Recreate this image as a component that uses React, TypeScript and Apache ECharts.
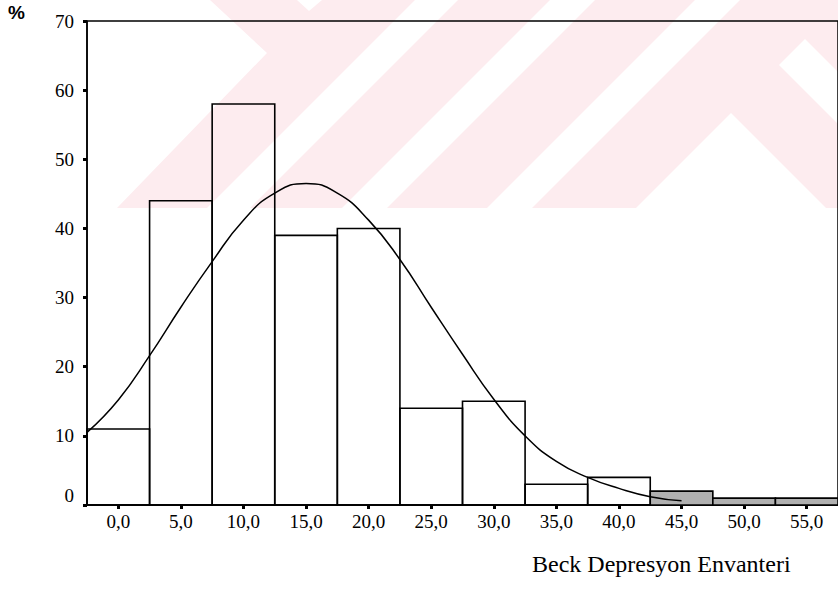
import React, { useEffect, useRef } from "react";
import * as echarts from "echarts";

// Histogram bins (centre of each 5-point class) and their heights in %
const binCenters = [0, 5, 10, 15, 20, 25, 30, 35, 40, 45, 50, 55];
const binPercents = [11, 44, 58, 39, 40, 14, 15, 3, 4, 2, 1, 1];
const BIN_WIDTH = 5;

// Fitted normal curve, sampled every 2.5 points
const curveX = [-2.5, 0, 2.5, 5, 7.5, 10, 12.5, 15, 17.5, 20, 22.5, 25, 27.5, 30, 32.5, 35, 37.5, 40, 42.5, 45];
const curveY = [10.5, 15.2, 21.6, 28.6, 35.2, 41.2, 45.1, 46.5, 45.1, 41.2, 35.5, 28.6, 21.8, 15.3, 10.0, 6.3, 4.0, 2.4, 1.2, 0.6];

// Axis ticks
const yTicks = [0, 10, 20, 30, 40, 50, 60, 70];
const xTickValues = binCenters;

const xTitle = "Beck Depresyon Envanteri";
const yUnit = "%";

const SERIF = "'Liberation Serif', 'Times New Roman', serif";
const PINK = "#fdecef";

// Faint background emblem (light pink band with white diagonal stripes)
const emblemBase: number[][] = [[210, 0], [838, 0], [838, 208], [117, 208], [267, 53]];
const emblemCuts: number[][][] = [
  [[297, 0], [322, 0], [309, 11]],
  [[415, 0], [458, 0], [250, 208], [207, 208]],
  [[550, 0], [595, 0], [387, 208], [342, 208]],
  [[695, 0], [740, 0], [532, 208], [487, 208]],
  [[731, 113], [826, 208], [636, 208]],
  [[779, 65], [805, 39], [838, 72], [838, 124]],
];

export default function App() {
  const ref = useRef<HTMLDivElement>(null);

  useEffect(() => {
    if (!ref.current) return;
    const chart = echarts.init(ref.current, undefined, { renderer: "svg" });

    const emblem: any[] = [
      { type: "polygon", z: -10, silent: true, shape: { points: emblemBase }, style: { fill: PINK } },
      ...emblemCuts.map((pts) => ({
        type: "polygon",
        z: -9,
        silent: true,
        shape: { points: pts },
        style: { fill: "#ffffff" },
      })),
    ];

    chart.setOption({
      animation: false,
      backgroundColor: "#ffffff",
      title: {
        text: xTitle,
        left: 532,
        top: 552,
        padding: 0,
        textStyle: { fontFamily: SERIF, fontSize: 24, fontWeight: "normal", color: "#000" },
      },
      graphic: [
        ...emblem,
        {
          type: "text",
          left: 8,
          top: 3,
          style: { text: yUnit, font: "bold 19px 'Liberation Sans', Arial, sans-serif", fill: "#000" },
        },
      ],
      grid: {
        left: 87,
        right: -4,
        top: 21,
        bottom: 95,
        show: true,
        borderColor: "#000",
        borderWidth: 1.5,
        backgroundColor: "transparent",
      },
      xAxis: {
        type: "value",
        min: -2.5,
        max: 57.5,
        splitLine: { show: false },
        axisLine: { show: true, onZero: false, lineStyle: { color: "#000", width: 1.5 } },
        axisTick: {
          show: true,
          customValues: xTickValues,
          length: 4,
          lineStyle: { color: "#000", width: 3 },
        },
        axisLabel: {
          customValues: xTickValues,
          formatter: (v: number) => v.toFixed(1).replace(".", ","),
          fontFamily: SERIF,
          fontSize: 19,
          color: "#000",
          margin: 7,
        },
      },
      yAxis: {
        type: "value",
        min: 0,
        max: 70,
        interval: 10,
        splitLine: { show: false },
        axisLine: { show: true, onZero: false, lineStyle: { color: "#000", width: 1.5 } },
        axisTick: { show: true, length: 4, lineStyle: { color: "#000", width: 3 } },
        axisLabel: {
          customValues: yTicks,
          fontFamily: SERIF,
          fontSize: 19,
          color: "#000",
          margin: 13,
          verticalAlignMinLabel: "bottom",
        },
      },
      series: [
        {
          type: "custom",
          z: 2,
          data: binCenters.map((c, i) => [c, binPercents[i]]),
          renderItem: (params: any, api: any) => {
            const c = api.value(0);
            const v = api.value(1);
            const p0 = api.coord([c - BIN_WIDTH / 2, v]);
            const p1 = api.coord([c + BIN_WIDTH / 2, 0]);
            const shaded = c >= 45;
            return {
              type: "rect",
              shape: { x: p0[0], y: p0[1], width: p1[0] - p0[0], height: p1[1] - p0[1] },
              style: {
                fill: shaded ? "#b0b0b0" : "rgba(255,255,255,0)",
                stroke: "#000",
                lineWidth: 1.6,
              },
            };
          },
        },
        {
          type: "line",
          z: 3,
          data: curveX.map((x, i) => [x, curveY[i]]),
          smooth: true,
          showSymbol: false,
          lineStyle: { color: "#000", width: 1.5 },
        },
      ],
    });

    return () => chart.dispose();
  }, []);

  return (
    <div
      ref={ref}
      style={{ position: "absolute", left: 0, top: 0, width: 838, height: 600, background: "#fff" }}
    />
  );
}
